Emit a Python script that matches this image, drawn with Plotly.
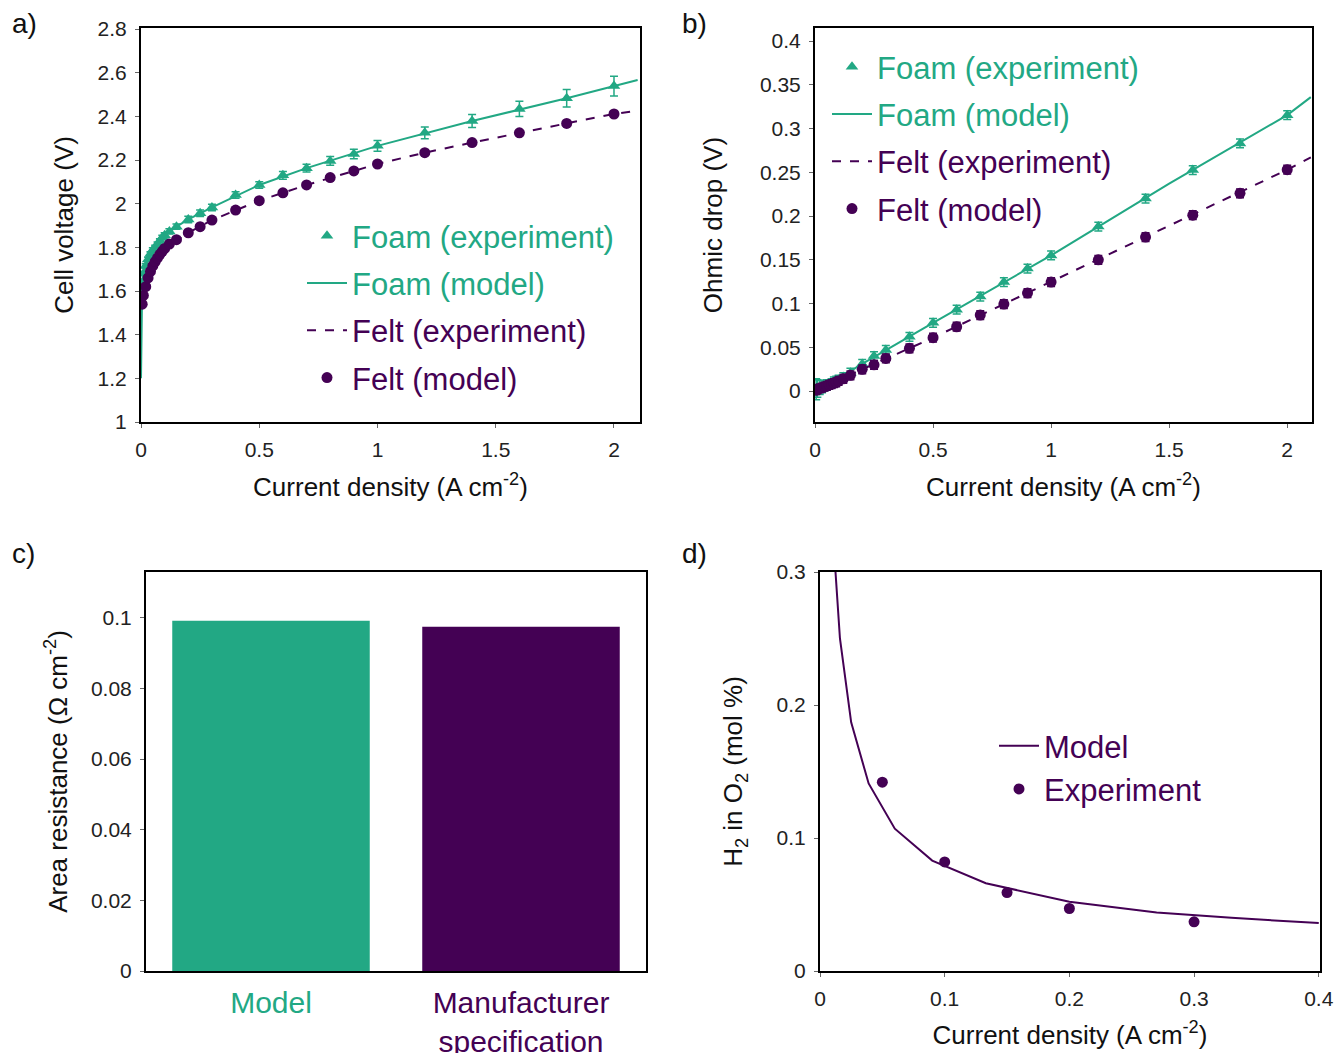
import plotly.graph_objects as go

GREEN = "#22a884"
PURPLE = "#440154"
FONT = "Liberation Sans, Arial, sans-serif"

# ---------- Panel a / b data ----------
current = [0.005, 0.01, 0.02, 0.03, 0.04, 0.05, 0.06, 0.07, 0.08, 0.09, 0.1, 0.12, 0.15,
           0.2, 0.25, 0.3, 0.4, 0.5, 0.6, 0.7, 0.8, 0.9, 1.0, 1.2, 1.4, 1.6, 1.8, 2.0]

foam_v_exp = [1.64, 1.68, 1.715, 1.745, 1.77, 1.788, 1.80, 1.815, 1.83, 1.845, 1.855, 1.873, 1.895,
              1.928, 1.956, 1.983, 2.04, 2.086, 2.13, 2.163, 2.196, 2.228, 2.265, 2.325, 2.379, 2.434, 2.483, 2.539]
foam_v_err = [0.01, 0.01, 0.01, 0.01, 0.01, 0.01, 0.01, 0.01, 0.01, 0.01, 0.012, 0.012, 0.012,
              0.015, 0.015, 0.015, 0.015, 0.015, 0.018, 0.018, 0.02, 0.022, 0.025, 0.027, 0.03, 0.035, 0.04, 0.045]
felt_v_model = [1.54, 1.58, 1.62, 1.66, 1.69, 1.715, 1.735, 1.752, 1.768, 1.782, 1.795, 1.815, 1.835,
                1.867, 1.895, 1.925, 1.971, 2.014, 2.05, 2.086, 2.12, 2.15, 2.182, 2.234, 2.28, 2.325, 2.368, 2.411]

foam_model_x = [0.0, 0.002, 0.005, 0.01, 0.02, 0.05, 0.1, 0.15, 0.2, 0.3, 0.5, 0.7, 1.0, 1.4, 1.8, 2.1]
foam_model_v = [1.2, 1.52, 1.63, 1.68, 1.715, 1.788, 1.855, 1.895, 1.928, 1.983, 2.086, 2.163, 2.265, 2.379, 2.483, 2.567]
felt_exp_x = [0.005, 0.02, 0.05, 0.1, 0.2, 0.3, 0.5, 0.7, 1.0, 1.2, 1.4, 1.6, 1.8, 2.0, 2.1]
felt_exp_v = [1.54, 1.62, 1.715, 1.795, 1.867, 1.925, 2.014, 2.086, 2.182, 2.234, 2.28, 2.325, 2.368, 2.411, 2.426]

foam_ohm_exp = [0.002, 0.003, 0.004, 0.005, 0.006, 0.007, 0.008, 0.009, 0.011, 0.012, 0.013, 0.016, 0.021,
                0.031, 0.040, 0.047, 0.062, 0.078, 0.093, 0.108, 0.1246, 0.140, 0.155, 0.188, 0.220, 0.2526, 0.283, 0.3154]
foam_ohm_err = [0.012, 0.01, 0.008, 0.007, 0.006, 0.006, 0.005, 0.005, 0.005, 0.005, 0.005, 0.005, 0.005,
                0.005, 0.005, 0.005, 0.005, 0.005, 0.005, 0.005, 0.005, 0.005, 0.005, 0.005, 0.005, 0.005, 0.005, 0.005]
felt_ohm_model = [0.001, 0.002, 0.003, 0.004, 0.005, 0.006, 0.007, 0.008, 0.009, 0.010, 0.0115, 0.014, 0.018,
                  0.0248, 0.030, 0.0373, 0.0488, 0.061, 0.0735, 0.0869, 0.0994, 0.112, 0.1246, 0.150, 0.176, 0.201, 0.226, 0.253]
felt_ohm_err = [0.005] * len(current)

foam_ohm_model_x = [0.0, 0.2, 0.5, 1.0, 1.5, 2.0, 2.1]
foam_ohm_model_y = [-0.002, 0.031, 0.078, 0.155, 0.237, 0.3154, 0.336]
felt_ohm_exp_x = [0.0, 0.2, 0.5, 1.0, 1.5, 2.0, 2.1]
felt_ohm_exp_y = [0.0, 0.0248, 0.061, 0.1246, 0.189, 0.253, 0.267]

# ---------- Panel c data ----------
bar_labels = ["Model", "Manufacturer<br>specification"]
bar_values = [0.0992, 0.0975]

# ---------- Panel d data ----------
h2_model_x = [0.011, 0.016, 0.025, 0.039, 0.06, 0.09, 0.133, 0.2, 0.27, 0.33, 0.4]
h2_model_y = [0.32, 0.25, 0.187, 0.141, 0.107, 0.083, 0.066, 0.052, 0.044, 0.040, 0.036]
h2_exp_x = [0.05, 0.1, 0.15, 0.2, 0.3]
h2_exp_y = [0.142, 0.082, 0.059, 0.047, 0.037]


def col(text, c):
    return f"<span style='color:{c}'>{text}</span>"


fig = go.Figure()

# Panel a
fig.add_trace(go.Scatter(x=current, y=foam_v_exp, mode="markers", name=col("Foam (experiment)", GREEN),
                         marker=dict(symbol="triangle-up", size=11, color=GREEN),
                         error_y=dict(type="data", array=foam_v_err, color=GREEN, thickness=1.5, width=4),
                         xaxis="x", yaxis="y", legend="legend", legendgroup="a1"))
fig.add_trace(go.Scatter(x=foam_model_x, y=foam_model_v, mode="lines", name=col("Foam (model)", GREEN),
                         line=dict(color=GREEN, width=2), xaxis="x", yaxis="y", legend="legend", legendgroup="a2"))
fig.add_trace(go.Scatter(x=felt_exp_x, y=felt_exp_v, mode="lines", name=col("Felt (experiment)", PURPLE),
                         line=dict(color=PURPLE, width=2, dash="dash"), xaxis="x", yaxis="y", legend="legend", legendgroup="a3"))
fig.add_trace(go.Scatter(x=current, y=felt_v_model, mode="markers", name=col("Felt (model)", PURPLE),
                         marker=dict(symbol="circle", size=11, color=PURPLE),
                         xaxis="x", yaxis="y", legend="legend", legendgroup="a4"))

# Panel b
fig.add_trace(go.Scatter(x=current, y=foam_ohm_exp, mode="markers", name=col("Foam (experiment)", GREEN),
                         marker=dict(symbol="triangle-up", size=11, color=GREEN),
                         error_y=dict(type="data", array=foam_ohm_err, color=GREEN, thickness=1.5, width=4),
                         xaxis="x2", yaxis="y2", legend="legend2", legendgroup="b1"))
fig.add_trace(go.Scatter(x=foam_ohm_model_x, y=foam_ohm_model_y, mode="lines", name=col("Foam (model)", GREEN),
                         line=dict(color=GREEN, width=2), xaxis="x2", yaxis="y2", legend="legend2", legendgroup="b2"))
fig.add_trace(go.Scatter(x=felt_ohm_exp_x, y=felt_ohm_exp_y, mode="lines", name=col("Felt (experiment)", PURPLE),
                         line=dict(color=PURPLE, width=2, dash="dash"), xaxis="x2", yaxis="y2", legend="legend2", legendgroup="b3"))
fig.add_trace(go.Scatter(x=current, y=felt_ohm_model, mode="markers", name=col("Felt (model)", PURPLE),
                         marker=dict(symbol="circle", size=11, color=PURPLE),
                         error_y=dict(type="data", array=felt_ohm_err, color=PURPLE, thickness=1.5, width=4),
                         xaxis="x2", yaxis="y2", legend="legend2", legendgroup="b4"))

# Panel c
fig.add_trace(go.Bar(x=[0, 1], y=bar_values, marker=dict(color=[GREEN, PURPLE], line=dict(width=0)),
                     width=0.79, showlegend=False, xaxis="x3", yaxis="y3"))

# Panel d
fig.add_trace(go.Scatter(x=h2_model_x, y=h2_model_y, mode="lines", name=col("Model", PURPLE),
                         line=dict(color=PURPLE, width=2), xaxis="x4", yaxis="y4", legend="legend3", legendgroup="d1"))
fig.add_trace(go.Scatter(x=h2_exp_x, y=h2_exp_y, mode="markers", name=col("Experiment", PURPLE),
                         marker=dict(symbol="circle", size=11, color=PURPLE),
                         xaxis="x4", yaxis="y4", legend="legend3", legendgroup="d2"))

W, H = 1336, 1053


def px_x(p):
    return p / W


def px_y(p):
    return 1 - p / H


axis_common = dict(showline=True, linecolor="black", linewidth=2, mirror=True, ticks="outside",
                   ticklen=4, tickwidth=1.2, tickcolor="#666", showgrid=False, zeroline=False,
                   automargin=False, ticklabelstandoff=4,
                   tickfont=dict(family=FONT, size=21, color="#222"),
                   title_font=dict(family=FONT, size=26, color="#111"))

xtitle = "Current density (A cm<sup>-2</sup>)"

legend_common = dict(xanchor="left", yanchor="top", bgcolor="rgba(0,0,0,0)",
                     font=dict(family=FONT, size=31), itemwidth=40, tracegroupgap=4, traceorder="grouped")

layout = dict(
    width=W, height=H, margin=dict(l=0, r=0, t=0, b=0, autoexpand=False),
    paper_bgcolor="white", plot_bgcolor="white",
    font=dict(family=FONT, color="#111"),
    xaxis=dict(axis_common, domain=[px_x(141), px_x(640)], range=[0, 2.11], anchor="y",
               tickvals=[0, 0.5, 1, 1.5, 2], ticktext=["0", "0.5", "1", "1.5", "2"],
               title=dict(text=xtitle, standoff=18)),
    yaxis=dict(axis_common, domain=[px_y(422), px_y(28)], range=[1, 2.805], anchor="x",
               tickvals=[1, 1.2, 1.4, 1.6, 1.8, 2, 2.2, 2.4, 2.6, 2.8],
               ticktext=["1", "1.2", "1.4", "1.6", "1.8", "2", "2.2", "2.4", "2.6", "2.8"],
               title=dict(text="Cell voltage (V)", standoff=16)),
    xaxis2=dict(axis_common, domain=[px_x(815), px_x(1312)], range=[0, 2.105], anchor="y2",
                tickvals=[0, 0.5, 1, 1.5, 2], ticktext=["0", "0.5", "1", "1.5", "2"],
                title=dict(text=xtitle, standoff=18)),
    yaxis2=dict(axis_common, domain=[px_y(422), px_y(28)], range=[-0.0354, 0.415], anchor="x2",
                tickvals=[0, 0.05, 0.1, 0.15, 0.2, 0.25, 0.3, 0.35, 0.4],
                ticktext=["0", "0.05", "0.1", "0.15", "0.2", "0.25", "0.3", "0.35", "0.4"],
                title=dict(text="Ohmic drop (V)", standoff=30)),
    xaxis3=dict(axis_common, domain=[px_x(146), px_x(646)], range=[-0.5, 1.5], anchor="y3",
                ticks="", tickvals=[0, 1],
                ticktext=[col(bar_labels[0], GREEN), col(bar_labels[1], PURPLE)],
                tickfont=dict(family=FONT, size=30), ticklabelstandoff=4),
    yaxis3=dict(axis_common, domain=[px_y(971), px_y(572)], range=[0, 0.113], anchor="x3",
                tickvals=[0, 0.02, 0.04, 0.06, 0.08, 0.1],
                ticktext=["0", "0.02", "0.04", "0.06", "0.08", "0.1"],
                title=dict(text="Area resistance (Ω cm<sup>-2</sup>)", standoff=16)),
    xaxis4=dict(axis_common, domain=[px_x(820), px_x(1320)], range=[0, 0.401], anchor="y4",
                tickvals=[0, 0.1, 0.2, 0.3, 0.4], ticktext=["0", "0.1", "0.2", "0.3", "0.4"],
                title=dict(text=xtitle, standoff=17)),
    yaxis4=dict(axis_common, domain=[px_y(971), px_y(572)], range=[0, 0.3], anchor="x4",
                tickvals=[0, 0.1, 0.2, 0.3], ticktext=["0", "0.1", "0.2", "0.3"],
                title=dict(text="H<sub>2</sub> in O<sub>2</sub> (mol %)", standoff=26)),
    legend=dict(legend_common, x=px_x(302), y=px_y(209)),
    legend2=dict(legend_common, x=px_x(827), y=px_y(40)),
    legend3=dict(legend_common, x=px_x(994), y=px_y(719), tracegroupgap=0),
    annotations=[
        dict(text=t, x=px_x(xx), y=px_y(yy), xref="paper", yref="paper", xanchor="left", yanchor="middle",
             showarrow=False, font=dict(family=FONT, size=28, color="#111"))
        for t, xx, yy in [("a)", 10, 24), ("b)", 680, 24), ("c)", 10, 553), ("d)", 680, 553)]
    ],
)

fig.update_layout(**layout)
fig.write_html("out.html", config={"displayModeBar": False},
               post_script="document.body.style.margin='0';document.body.style.overflow='hidden';")
